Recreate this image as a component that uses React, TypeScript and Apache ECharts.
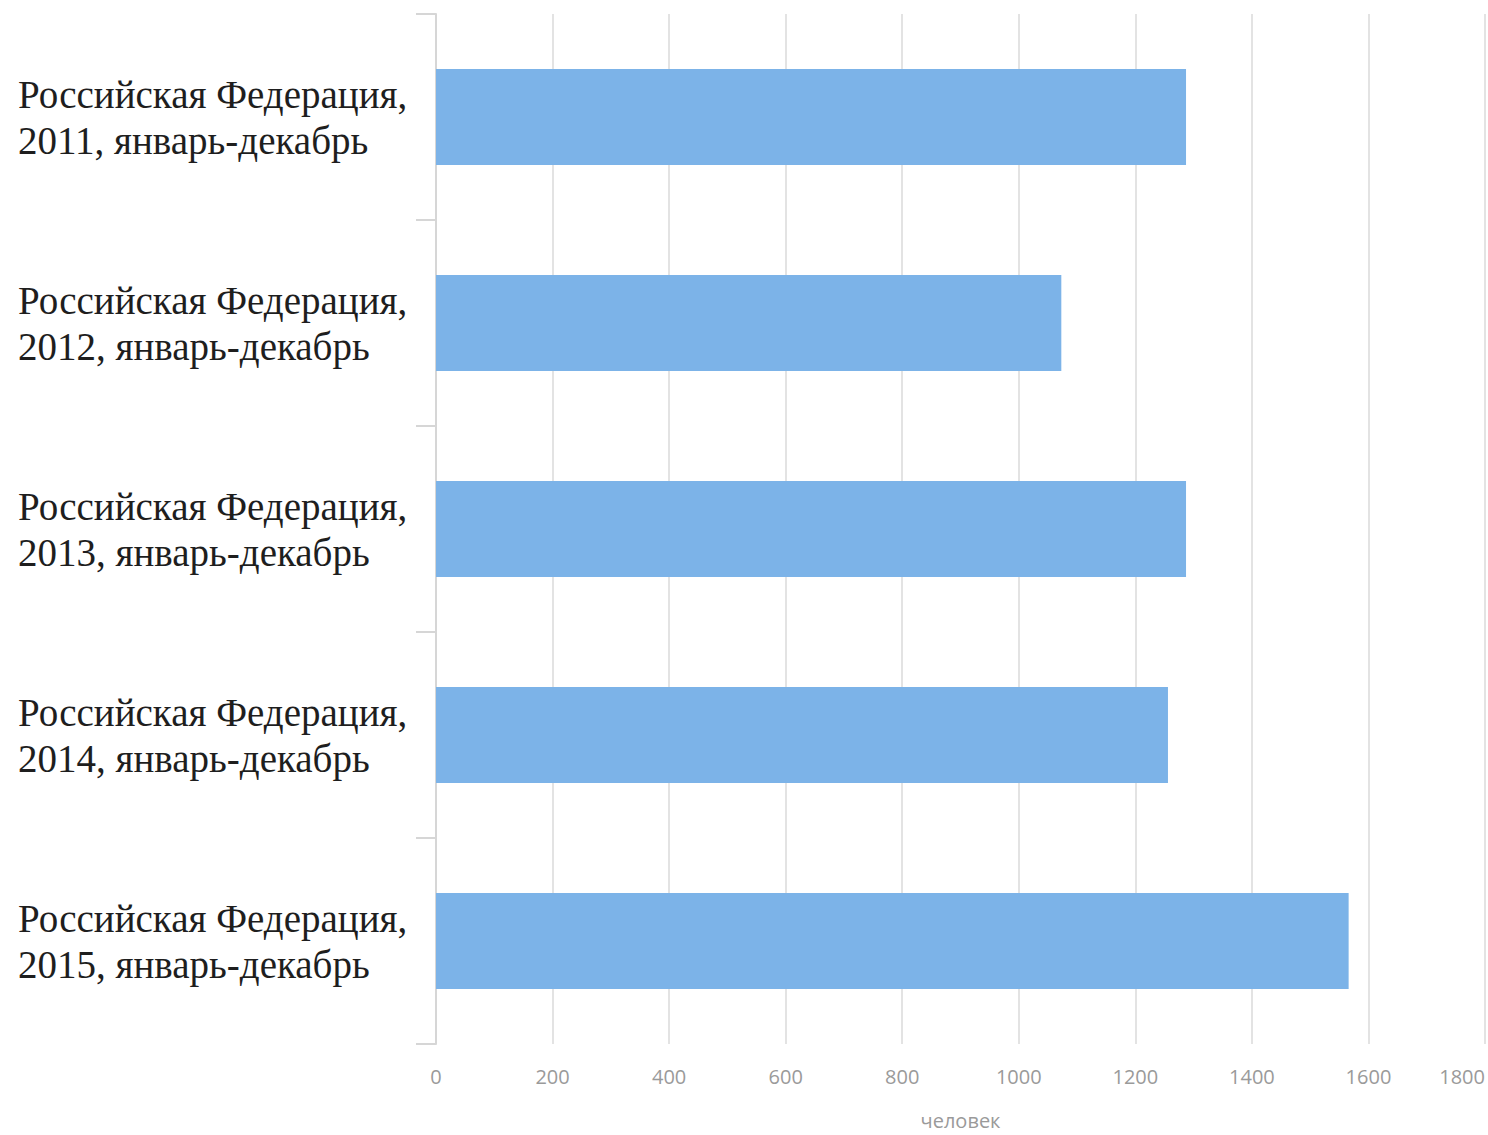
import React, { useEffect, useRef } from "react";
import * as echarts from "echarts";

const categories = [
  "Российская Федерация,\n2011, январь-декабрь",
  "Российская Федерация,\n2012, январь-декабрь",
  "Российская Федерация,\n2013, январь-декабрь",
  "Российская Федерация,\n2014, январь-декабрь",
  "Российская Федерация,\n2015, январь-декабрь",
];
const values = [1287, 1073, 1287, 1256, 1566];
const axisName = "человек";

export default function App() {
  const ref = useRef<HTMLDivElement>(null);
  useEffect(() => {
    if (!ref.current) return;
    const chart = echarts.init(ref.current, null, { renderer: "svg" });
    chart.setOption({
      animation: false,
      backgroundColor: "#ffffff",
      grid: { left: 436, right: 0, top: 14, bottom: 65, containLabel: false },
      xAxis: {
        type: "value",
        min: 0,
        max: 1800,
        interval: 200,
        name: axisName,
        nameLocation: "middle",
        nameGap: 66,
        nameTextStyle: { color: "#9a9a9a", fontSize: 20, fontFamily: "Open Sans" },
        axisLine: { show: false },
        axisTick: { show: false },
        axisLabel: {
          color: "#9a9a9a",
          fontSize: 20,
          fontFamily: "Open Sans",
          margin: 22,
          alignMaxLabel: "right",
          formatter: (v: number) => String(v),
        },
        splitLine: { show: true, lineStyle: { color: "#e3e3e3", width: 2 } },
      },
      yAxis: {
        type: "category",
        data: categories,
        inverse: true,
        axisLine: { show: true, lineStyle: { color: "#d6d6d6", width: 2 } },
        axisTick: { show: true, length: 20, lineStyle: { color: "#d6d6d6", width: 2 } },
        axisLabel: {
          align: "left",
          margin: 418,
          color: "#1e1e1e",
          fontSize: 39,
          lineHeight: 46,
          fontFamily: "Liberation Serif",
        },
        splitLine: { show: false },
      },
      series: [
        {
          type: "bar",
          data: values,
          barWidth: 96,
          itemStyle: { color: "#7cb3e8" },
        },
      ],
    });
    return () => chart.dispose();
  }, []);
  return (
    <div
      ref={ref}
      style={{ position: "absolute", left: 0, top: 0, width: 1488, height: 1135 }}
    />
  );
}
